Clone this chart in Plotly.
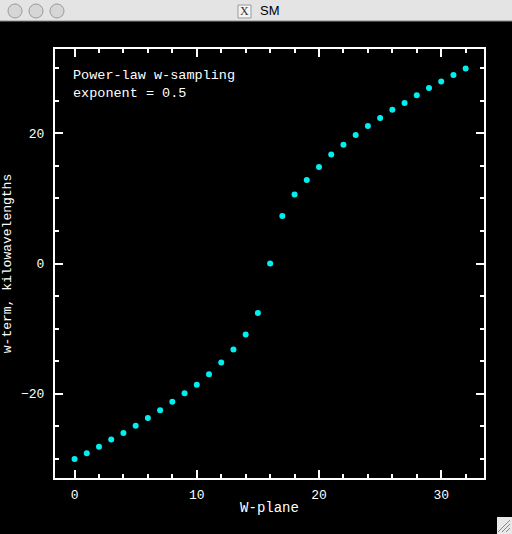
import plotly.graph_objects as go

# Data
w_plane = list(range(33))
w_term = [-30.0, -29.1, -28.1, -27.0, -26.0, -24.9, -23.7, -22.5,
          -21.2, -19.9, -18.6, -17.0, -15.2, -13.2, -10.9, -7.6,
          0.0, 7.3, 10.6, 12.8, 14.8, 16.7, 18.2, 19.7,
          21.1, 22.3, 23.6, 24.6, 25.8, 26.9, 27.9, 28.9, 29.9]

x_ticks = [0, 10, 20, 30]
y_ticks = [-20, 0, 20]

W, H = 512, 534
L, R, T, B = 55, 28, 49, 56
PW, PH = W - L - R, H - T - B

def px(x):
    return (x - L) / PW

def py(y):
    return (H - B - y) / PH

FONT = "Liberation Mono"

fig = go.Figure()
fig.add_trace(go.Scatter(
    x=w_plane, y=w_term, mode="markers",
    marker=dict(color="#00f0f0", size=6, symbol="circle", line=dict(width=0)),
    showlegend=False, hoverinfo="skip"))

axis_common = dict(
    showgrid=False, zeroline=False, showline=True, linecolor="white",
    linewidth=2, mirror="ticks", ticks="inside", ticklen=8, tickwidth=1.5,
    tickcolor="white", tickfont=dict(family=FONT, size=13, color="white"),
    automargin=False,
)

fig.update_xaxes(range=[-1.6, 33.5], tickvals=x_ticks, ticklabelstandoff=3,
                 minor=dict(dtick=2, tick0=0, ticks="inside", ticklen=4,
                            tickcolor="white", tickwidth=1.5),
                 title=dict(text="W-plane", font=dict(family=FONT, size=14, color="white"),
                            standoff=1),
                 **axis_common)
fig.update_yaxes(range=[-32.9, 32.9], tickvals=y_ticks, ticklabelstandoff=6,
                 minor=dict(dtick=5, tick0=0, ticks="inside", ticklen=4,
                            tickcolor="white", tickwidth=1.5),
                 title=dict(text="w-term, kilowavelengths",
                            font=dict(family=FONT, size=13, color="white"),
                            standoff=8),
                 **axis_common)

shapes = []
# Window title bar
shapes.append(dict(type="rect", xref="paper", yref="paper",
                   x0=px(0), x1=px(W), y0=py(21), y1=py(0),
                   fillcolor="#e4e4e4", line=dict(width=0), layer="above"))
shapes.append(dict(type="line", xref="paper", yref="paper",
                   x0=px(0), x1=px(W), y0=py(21), y1=py(21),
                   line=dict(color="#8c8c8c", width=1), layer="above"))
for cx in (15, 36, 57):
    shapes.append(dict(type="circle", xref="paper", yref="paper",
                       x0=px(cx - 7), x1=px(cx + 7), y0=py(18), y1=py(4),
                       fillcolor="#d6d6d6", line=dict(color="#9a9a9a", width=1),
                       layer="above"))
# X icon box
shapes.append(dict(type="rect", xref="paper", yref="paper",
                   x0=px(238), x1=px(251), y0=py(18), y1=py(5),
                   fillcolor="#f4f4f4", line=dict(color="#9a9a9a", width=1),
                   layer="above"))
# resize grip
shapes.append(dict(type="rect", xref="paper", yref="paper",
                   x0=px(497), x1=px(512), y0=py(534), y1=py(517),
                   fillcolor="#e8e8e8", line=dict(width=0), layer="above"))
for k in (4, 8, 12):
    shapes.append(dict(type="line", xref="paper", yref="paper",
                       x0=px(510 - k), x1=px(510), y0=py(532), y1=py(532 - k),
                       line=dict(color="#8a8a8a", width=1), layer="above"))

annotations = [
    dict(text="Power-law w-sampling<br>exponent = 0.5", xref="paper", yref="paper",
         x=px(71), y=py(66), xanchor="left", yanchor="top", showarrow=False, align="left",
         font=dict(family=FONT, size=13.5, color="white")),
    dict(text="SM", xref="paper", yref="paper", x=px(258), y=py(11),
         xanchor="left", yanchor="middle", showarrow=False,
         font=dict(family="Liberation Sans", size=13, color="black")),
    dict(text="X", xref="paper", yref="paper", x=px(244.5), y=py(11.5),
         xanchor="center", yanchor="middle", showarrow=False,
         font=dict(family="Liberation Serif", size=12, color="#333333")),
]

fig.update_layout(
    width=W, height=H, margin=dict(l=L, r=R, t=T, b=B, pad=0, autoexpand=False),
    paper_bgcolor="black", plot_bgcolor="black",
    shapes=shapes, annotations=annotations,
)

fig.write_html("out.html", config={"displayModeBar": False},
               post_script="document.body.style.margin='0';document.body.style.padding='0';"
                           "document.body.style.background='black';document.body.style.overflow='hidden';")
